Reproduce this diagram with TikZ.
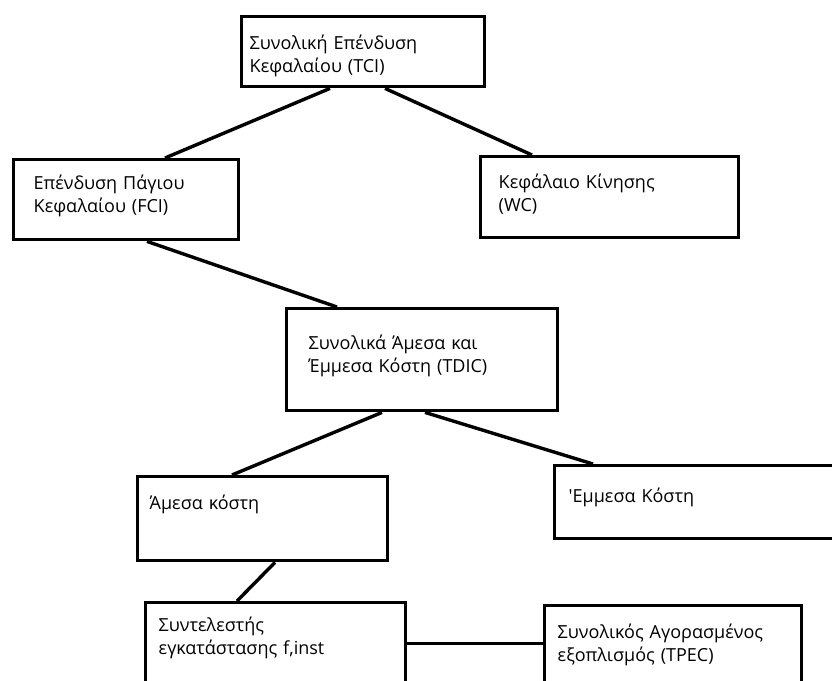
\documentclass[tikz,border=0pt]{standalone}
\usepackage{fontspec}
\setmainfont{Open Sans}
\usetikzlibrary{positioning}

\begin{document}
\begin{tikzpicture}[
  x=1pt, y=-1pt,
  costbox/.style={rectangle, draw, line width=3.4pt, anchor=north west, align=left, inner xsep=14pt, font=\fontsize{18}{23}\selectfont},
  link/.style={line width=3.4pt}
]
  \useasboundingbox (0,0) rectangle (832,680);

  \node[costbox, inner xsep=8pt, text width=227pt, minimum height=70pt, text depth=19pt] (tci) at (240,15) {Συνολική Επένδυση\\Κεφαλαίου (TCI)};
  \node[costbox, inner xsep=20pt, text width=185pt, minimum height=80pt, text depth=35pt] (fci) at (12,158) {Επένδυση Πάγιου\\Κεφαλαίου (FCI)};
  \node[costbox, inner xsep=18pt, text width=222pt, minimum height=81pt, text depth=32pt] (wc) at (479,155) {Κεφάλαιο Κίνησης\\(WC)};
  \node[costbox, inner xsep=22pt, text width=227pt, minimum height=102pt, text depth=35pt] (tdic) at (285,307) {Συνολικά Άμεσα και\\Έμμεσα Κόστη (TDIC)};
  \node[costbox, inner xsep=12pt, text width=226pt, minimum height=84pt, text depth=32pt] (direct) at (136,475) {Άμεσα κόστη};
  \node[costbox, inner xsep=14pt, text width=262pt, minimum height=73pt, text depth=14pt] (indirect) at (553,464) {\textquotesingle Εμμεσα Κόστη};
  \node[costbox, inner xsep=13pt, text width=234pt, minimum height=95pt, text depth=51pt] (finst) at (144,601) {Συντελεστής\\εγκατάστασης f,inst};
  \node[costbox, inner xsep=13pt, text width=231pt, minimum height=92pt, text depth=40pt] (tpec) at (543,604) {Συνολικός Αγορασμένος\\εξοπλισμός (TPEC)};
  \coordinate (joint) at ([yshift=7pt]finst.east);

  \draw[link] ([xshift=90pt]tci.south west) -- ([xshift=153pt]fci.north west);
  \draw[link] ([xshift=145pt]tci.south west) -- ([xshift=53pt]wc.north west);
  \draw[link] ([xshift=135pt]fci.south west) -- ([xshift=52pt]tdic.north west);
  \draw[link] ([xshift=97pt]tdic.south west) -- ([xshift=96pt]direct.north west);
  \draw[link] ([xshift=140pt]tdic.south west) -- ([xshift=40pt]indirect.north west);
  \draw[link] ([xshift=139pt]direct.south west) -- ([xshift=93pt]finst.north west);
  \draw[link] (joint) -- (joint -| tpec.west);
\end{tikzpicture}
\end{document}
